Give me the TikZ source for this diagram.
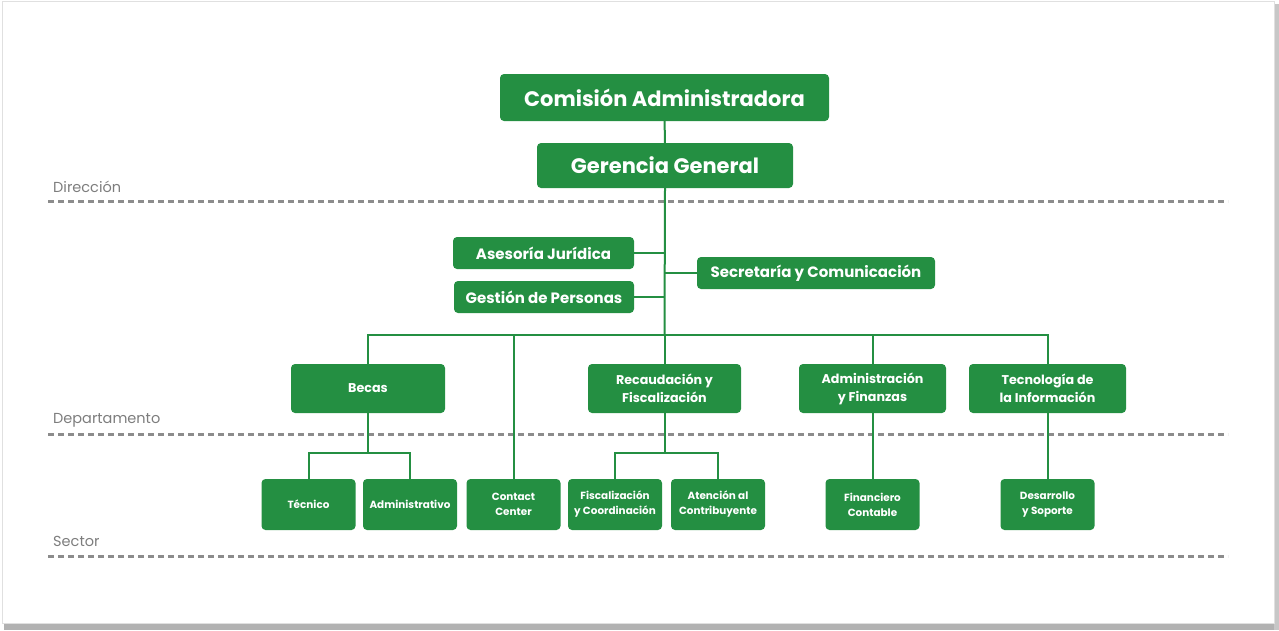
\documentclass[tikz,border=0pt]{standalone}
\usepackage{fontspec}
\setmainfont{Poppins}
\definecolor{cgreen}{RGB}{36,143,66}
\definecolor{cdash}{RGB}{140,140,140}
\definecolor{clabel}{RGB}{125,125,125}
\tikzset{
  box/.style={fill=cgreen, rounded corners=4pt, text=white, font=\bfseries, align=center, inner sep=0pt},
  big/.style={box, font=\bfseries\fontsize{21}{24}\selectfont},
  mid/.style={box, font=\bfseries\fontsize{15}{17}\selectfont},
  dep/.style={box, font=\bfseries\fontsize{12.7}{18}\selectfont, minimum width=#1, minimum height=49},
  sec/.style={box, font=\bfseries\fontsize{10.4}{15}\selectfont, minimum width=94, minimum height=51},
  link/.style={draw=cgreen, line width=2pt},
  level/.style={draw=cdash, line width=3pt, dash pattern=on 6pt off 4pt},
  lvl/.style={text=clabel, font=\fontsize{14.5}{16}\selectfont, anchor=base west, inner sep=0pt},
}
\begin{document}
\begin{tikzpicture}[x=1pt,y=-1pt]
\useasboundingbox (0,0) rectangle (1279,630);
% frame with shadow
\fill[black!30] (4,624) rectangle (1279,630);
\fill[black!22] (1274,4) rectangle (1279,630);
\draw[black!12, line width=0.8pt] (2,1) rectangle (1274,623);

% level lines
\node[lvl] (ldir) at (53,192) {Dirección};
\node[lvl] (ldep) at (53,423) {Departamento};
\node[lvl] (lsec) at (53,546) {Sector};
\coordinate (d1a) at (48,201); \coordinate (d1b) at (1228,201);
\coordinate (d2a) at (48,434); \coordinate (d2b) at (1228,434);
\coordinate (d3a) at (48,556); \coordinate (d3b) at (1228,556);
\draw[level] (d1a) -- (d1b);
\draw[level] (d2a) -- (d2b);
\draw[level] (d3a) -- (d3b);

% nodes
\node[big, minimum width=329, minimum height=47] (ca) at (664.5,97.5) {Comisión Administradora};
\node[big, minimum width=256, minimum height=45] (gg) at (665,165.5) {Gerencia General};
\node[mid, minimum width=181, minimum height=32] (aj) at (543.5,253) {Asesoría Jurídica};
\node[mid, minimum width=180, minimum height=32] (gp) at (544,297) {Gestión de Personas};
\node[mid, minimum width=238, minimum height=32] (sc) at (816,273) {Secretaría y Comunicación};

\node[dep=154] (be) at (368,388.5) {Becas};
\node[dep=153] (rf) at (664.5,388.5) {Recaudación y\\Fiscalización};
\node[dep=147] (af) at (872.5,388.5) {Administración\\y Finanzas};
\node[dep=157] (ti) at (1047.5,388.5) {Tecnología de\\la Información};

\node[sec] (te) at (308.5,504.5) {Técnico};
\node[sec] (ad) at (410,504.5) {Administrativo};
\node[sec] (cc) at (513.5,504.5) {Contact\\Center};
\node[sec] (fc) at (615,504.5) {Fiscalización\\y Coordinación};
\node[sec] (ac) at (718,504.5) {Atención al\\Contribuyente};
\node[sec] (fn) at (872.5,504.5) {Financiero\\Contable};
\node[sec] (ds) at (1047.5,504.5) {Desarrollo\\y Soporte};

% connectors
\coordinate (bar) at (664.5,335);
\draw[link] (ca) -- (gg);
\draw[link] (gg.south) -- (bar);
\draw[link] (aj.east) -- (aj.east -| bar);
\draw[link] (gp.east) -- (gp.east -| bar);
\draw[link] (sc.west) -- (sc.west -| bar);
\draw[link] (be.north) |- (bar) -| (ti.north);
\draw[link] (bar) -- (rf.north);
\draw[link] (af.north) -- (af.north |- bar);
\draw[link] (cc.north) -- (cc.north |- bar);

\coordinate (bj) at (368,453);
\draw[link] (be.south) -- (bj);
\draw[link] (te.north) |- (bj) -| (ad.north);
\coordinate (rj) at (664.5,453);
\draw[link] (rf.south) -- (rj);
\draw[link] (fc.north) |- (rj) -| (ac.north);
\draw[link] (af.south) -- (fn.north);
\draw[link] (ti.south) -- (ds.north);
\end{tikzpicture}
\end{document}
